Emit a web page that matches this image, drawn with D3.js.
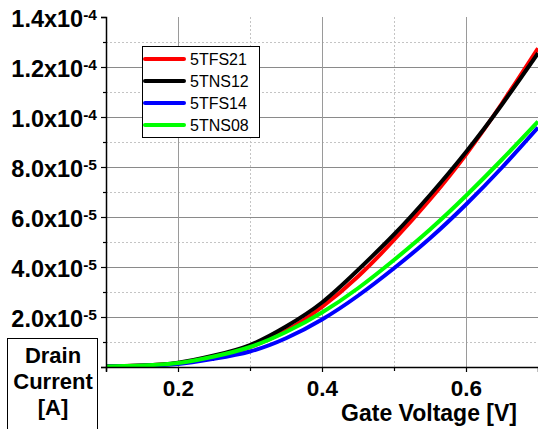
<!DOCTYPE html>
<html>
<head>
<meta charset="utf-8">
<script src="https://cdn.jsdelivr.net/npm/d3@7"></script>
<style>
  body { margin: 0; background: #fff; }
  svg { display: block; font-family: "Liberation Sans", Arial, sans-serif; }
</style>
</head>
<body>
<svg id="chart" width="538" height="429"></svg>
<script>
// ---- data ----
const gateVoltage = [0.10, 0.15, 0.20, 0.25, 0.30, 0.35, 0.40, 0.45, 0.50, 0.55, 0.60, 0.65, 0.70];
const seriesNames = ["5TFS21", "5TNS12", "5TFS14", "5TNS08"];
const seriesColors = ["#ff0000", "#000000", "#0000ff", "#00ff00"];
// drain current in units of 1e-5 A
const i5TFS21 = [0.02, 0.06, 0.15, 0.42, 0.80, 1.45, 2.40, 3.62, 5.08, 6.70, 8.50, 10.55, 12.75];
const i5TNS12 = [0.02, 0.06, 0.17, 0.46, 0.88, 1.62, 2.58, 3.88, 5.30, 6.88, 8.60, 10.50, 12.55];
const i5TFS14 = [0.02, 0.05, 0.12, 0.33, 0.62, 1.15, 1.90, 2.85, 3.95, 5.15, 6.50, 7.98, 9.58];
const i5TNS08 = [0.02, 0.06, 0.16, 0.42, 0.80, 1.40, 2.18, 3.15, 4.28, 5.50, 6.85, 8.30, 9.82];
const seriesValues = [i5TFS21, i5TNS12, i5TFS14, i5TNS08];

const xTicks = [0.2, 0.4, 0.6];
const xTickLabels = ["0.2", "0.4", "0.6"];
const xMinorTicks = [0.1, 0.3, 0.5];
const yTicks = [0, 2e-5, 4e-5, 6e-5, 8e-5, 1.0e-4, 1.2e-4, 1.4e-4];
const yTickMantissa = ["", "2.0", "4.0", "6.0", "8.0", "1.0", "1.2", "1.4"];
const yTickExponent = ["", "-5", "-5", "-5", "-5", "-4", "-4", "-4"];
const yMinorTicks = [1e-5, 3e-5, 5e-5, 7e-5, 9e-5, 1.1e-4, 1.3e-4];
const xTitle = "Gate Voltage [V]";
const yTitleLines = ["Drain", "Current", "[A]"];

// ---- layout ----
const svg = d3.select("#chart");
const pL = 106, pR = 538, pT = 17, pB = 367;
const x = d3.scaleLinear().domain([0.1, 0.7]).range([pL, pR]);
const y = d3.scaleLinear().domain([0, 1.4e-4]).range([pB, pT]);

// grid
const grid = svg.append("g");
grid.selectAll(".hmin").data(yMinorTicks).join("line")
  .attr("x1", pL).attr("x2", pR)
  .attr("y1", d => Math.round(y(d)) + 0.5).attr("y2", d => Math.round(y(d)) + 0.5)
  .attr("stroke", "#c4c4c4").attr("stroke-dasharray", "2,2");
grid.selectAll(".vmin").data(xMinorTicks.filter(d => d > 0.1)).join("line")
  .attr("y1", pT).attr("y2", pB)
  .attr("x1", d => Math.round(x(d)) + 0.5).attr("x2", d => Math.round(x(d)) + 0.5)
  .attr("stroke", "#c4c4c4").attr("stroke-dasharray", "2,2");
grid.selectAll(".hmaj").data(yTicks.filter(d => d > 0 && d < 1.4e-4)).join("line")
  .attr("x1", pL).attr("x2", pR)
  .attr("y1", d => Math.round(y(d)) + 0.5).attr("y2", d => Math.round(y(d)) + 0.5)
  .attr("stroke", "#8a8a8a");
grid.selectAll(".vmaj").data(xTicks).join("line")
  .attr("y1", pT).attr("y2", pB)
  .attr("x1", d => Math.round(x(d)) + 0.5).attr("x2", d => Math.round(x(d)) + 0.5)
  .attr("stroke", "#9a9a9a");

// curves
svg.append("clipPath").attr("id", "clip").append("rect")
  .attr("x", pL).attr("y", pT - 5).attr("width", pR - pL).attr("height", pB - pT + 5);
const line = d3.line().x((d, i) => x(gateVoltage[i])).y(d => y(d * 1e-5)).curve(d3.curveNatural);
const curves = svg.append("g").attr("clip-path", "url(#clip)");
seriesValues.forEach((vals, k) => {
  curves.append("path").datum(vals).attr("d", line)
    .attr("fill", "none").attr("stroke", seriesColors[k]).attr("stroke-width", 4)
    .attr("stroke-linejoin", "round");
});

// axes
const yAxis = svg.append("g").attr("transform", `translate(${pL},0)`)
  .call(d3.axisLeft(y).tickValues(yTicks).tickSize(5).tickFormat(() => ""));
const yMinorAxis = svg.append("g").attr("transform", `translate(${pL},0)`)
  .call(d3.axisLeft(y).tickValues(yMinorTicks).tickSize(3).tickFormat(() => ""));
yMinorAxis.select(".domain").remove();
const xAxis = svg.append("g").attr("transform", `translate(0,${pB})`)
  .call(d3.axisBottom(x).tickValues(xTicks).tickSize(5).tickFormat((d, i) => xTickLabels[i]));
const xMinorAxis = svg.append("g").attr("transform", `translate(0,${pB})`)
  .call(d3.axisBottom(x).tickValues(xMinorTicks).tickSize(4).tickFormat(() => ""));
xMinorAxis.select(".domain").remove();
[yAxis, yMinorAxis, xAxis, xMinorAxis].forEach(a => {
  a.selectAll(".domain").attr("stroke", "#000").attr("stroke-width", 1.5);
  a.selectAll(".tick line").attr("stroke", "#000").attr("stroke-width", 1.2);
});
xAxis.selectAll("text")
  .attr("font-family", "Liberation Sans, Arial, sans-serif")
  .attr("font-size", 22.5).attr("font-weight", "bold").attr("fill", "#000")
  .attr("y", 0).attr("dy", 0).attr("transform", "translate(0,29)");

// y tick labels with superscript
yAxis.selectAll(".tick").each(function(d, i) {
  const t = d3.select(this).select("text");
  t.text(null).attr("x", -9).attr("dy", 0).attr("y", 9.5)
    .attr("text-anchor", "end")
    .attr("font-family", "Liberation Sans, Arial, sans-serif")
    .attr("font-weight", "bold").attr("fill", "#000");
  if (!yTickMantissa[i]) return;
  t.append("tspan").attr("font-size", 23.5).text(yTickMantissa[i] + "x10");
  t.append("tspan").attr("font-size", 15.5).attr("dy", -7).text(yTickExponent[i]);
});

// x title
svg.append("text").attr("x", 517).attr("y", 421).attr("text-anchor", "end")
  .attr("font-size", 23).attr("font-weight", "bold").attr("fill", "#000").text(xTitle);

// y title box
svg.append("rect").attr("x", 7.5).attr("y", 338.5).attr("width", 90).attr("height", 100)
  .attr("fill", "#fff").attr("stroke", "#000").attr("stroke-width", 1);
svg.append("text").attr("text-anchor", "middle").attr("font-size", 22).attr("font-weight", "bold")
  .attr("fill", "#000")
  .selectAll("tspan").data(yTitleLines).join("tspan")
  .attr("x", 53).attr("y", (d, i) => 363 + i * 26).text(d => d);

// legend
const lg = svg.append("g");
lg.append("rect").attr("x", 142.5).attr("y", 46.5).attr("width", 117).attr("height", 91)
  .attr("fill", "#fff").attr("stroke", "#000").attr("stroke-width", 1);
seriesNames.forEach((name, k) => {
  const yy = 59 + k * 22;
  lg.append("line").attr("x1", 145).attr("x2", 184).attr("y1", yy).attr("y2", yy)
    .attr("stroke", seriesColors[k]).attr("stroke-width", 4).attr("stroke-linecap", "round");
  lg.append("text").attr("x", 190).attr("y", yy + 6).attr("font-size", 16).attr("fill", "#000").text(name);
});
</script>
</body>
</html>
